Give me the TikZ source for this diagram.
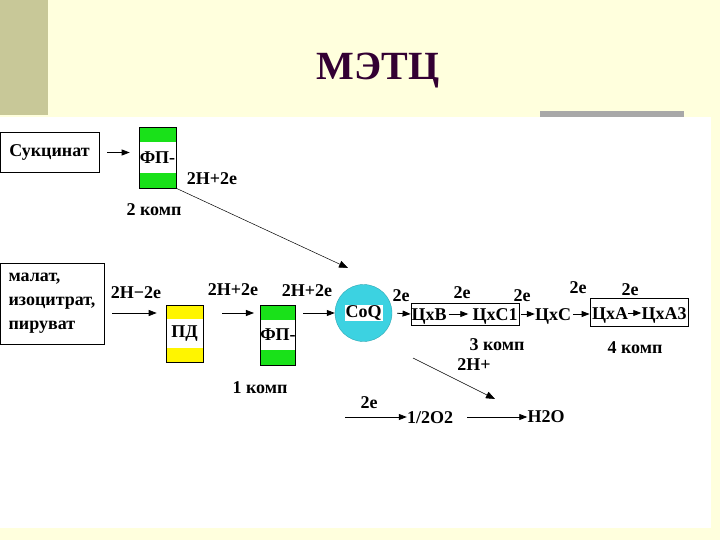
\documentclass[tikz,border=0pt]{standalone}
\usepackage{fontspec}
\setmainfont{Liberation Serif}
\usetikzlibrary{arrows.meta,positioning,calc}
\definecolor{slidebg}{RGB}{255,255,221}
\definecolor{slidebar}{RGB}{200,200,152}
\definecolor{slidegray}{RGB}{168,168,168}
\definecolor{titlecol}{RGB}{51,0,51}
\definecolor{fpgreen}{RGB}{25,225,25}
\definecolor{pdyellow}{RGB}{255,245,0}
\definecolor{coqcyan}{RGB}{60,210,225}

\begin{document}
\begin{tikzpicture}[
    x=1pt, y=-1pt,
    font=\bfseries\fontsize{18}{24}\selectfont,
    src/.style={draw, line width=0.8pt, inner sep=0pt, align=left},
    band/.style={draw, line width=0.6pt, inner sep=0pt,
        path picture={\fill[white] ($(path picture bounding box.north west)!.25!(path picture bounding box.south west)$) rectangle ($(path picture bounding box.north east)!.75!(path picture bounding box.south east)$);}},
    fp/.style={band, fill=fpgreen},
    pdbox/.style={band, fill=pdyellow},
    coq/.style={circle, draw=coqcyan!80!black, line width=0.4pt, fill=coqcyan, inner sep=0pt},
    cytbox/.style={draw, line width=0.8pt, inner sep=0pt},
    lbl/.style={inner sep=0pt, text height=12pt, text depth=0pt},
    arrow/.style={-{Triangle[length=8pt,width=6pt]}, line width=0.8pt},
    thinarrow/.style={-{Triangle[length=9pt,width=7pt]}, line width=0.5pt}
]
\useasboundingbox (0,0) rectangle (720,540);
\fill[slidebg] (0,0) rectangle (720,540);
\fill[slidebar] (0,0) rectangle (48,115);
\fill[white] (0,117) rectangle (711,528);
\fill[slidegray] (540,111) rectangle (684,117);

\node[anchor=base, text=titlecol, font=\bfseries\fontsize{40}{44}\selectfont] (title) at (378,80) {МЭТЦ};

\node[src, minimum width=99pt, minimum height=40pt] (succ) at (49.5,152.5) {Сукцинат};
\node[fp, minimum width=37pt, minimum height=61pt] (fp1) at (157.5,157.5) {ФП-};
\node[lbl] (h1) at (212,179) {2H+2e};
\node[lbl] (k2) at (154,209) {2 комп};

\node[src, minimum width=104pt, minimum height=81pt] (malat) at (52,303.5) {малат,\\изоцитрат,\\пируват};
\node[lbl] (h2) at (136,292) {2H−2e};
\node[pdbox, minimum width=37pt, minimum height=57pt] (pd) at (184.5,333.5) {ПД};
\node[lbl] (h3) at (233,289) {2H+2e};
\node[fp, minimum width=34pt, minimum height=60pt] (fp2) at (278,335) {ФП-};
\node[lbl] (h4) at (307,290) {2H+2e};
\node[lbl] (k1) at (260,387) {1 комп};

\node[coq, minimum size=57pt] (coq) at (363.5,313) {};
\node[fill=white, inner sep=1pt] (coqlbl) at (coq) {CoQ};
\node[lbl] (e1) at (401,295) {2e};

\node[cytbox, minimum width=108pt, minimum height=22pt] (k3box) at (465,314) {};
\node[lbl] (cb) at (429,314) {ЦхВ};
\node[lbl] (cc1) at (495,314) {ЦхС1};
\node[lbl] (e2) at (462,292) {2e};
\node[lbl] (e3) at (522,295) {2e};
\node[lbl] (cc) at (553,314) {ЦхС};
\node[lbl] (e4) at (578,287) {2e};
\node[cytbox, minimum width=98pt, minimum height=28pt] (k4box) at (639,312) {};
\node[lbl] (ca) at (610,313) {ЦхА};
\node[lbl] (ca3) at (664,313) {ЦхА3};
\node[lbl] (e5) at (630,289) {2e};
\node[lbl] (k3) at (497,344) {3 комп};
\node[lbl] (k4) at (635,347) {4 комп};

\node[lbl] (hp) at (474,364) {2H+};
\node[lbl] (e6) at (369,402) {2e};
\node[lbl] (o2) at (430,417) {1/2O2};
\node[lbl] (h2o) at (546,416) {H2O};

\coordinate (coqin) at (348,268);
\coordinate (hpin) at (413,358);
\coordinate (hpout) at (495,399);
\coordinate (o2in) at (345,417);

\draw[arrow, shorten <=8pt, shorten >=9pt] (succ.east) -- (succ.east -| fp1.west);
\draw[thinarrow] (fp1.south east) -- (coqin);
\draw[arrow, shorten <=8pt, shorten >=9pt] (malat.east |- coq) -- (pd.west |- coq);
\draw[arrow, shorten <=19pt, shorten >=6pt] (pd.east |- coq) -- (fp2.west |- coq);
\draw[arrow, shorten <=7pt] (fp2.east |- coq) -- (coq.west);
\draw[arrow, shorten <=5pt] (coq.east) -- (k3box.west);
\draw[arrow, shorten <=2pt, shorten >=4pt] (cb) -- (cc1);
\draw[arrow, shorten <=2pt] (k3box.east) -- (cc.west);
\draw[arrow, shorten <=2pt] (cc.east) -- (cc.east -| k4box.west);
\draw[arrow] (ca) -- (ca3);
\draw[thinarrow] (hpin) -- (hpout);
\draw[arrow] (o2in) -- (o2in -| o2.west);
\draw[arrow, shorten <=14pt] (o2.east) -- (o2.east -| h2o.west);
\end{tikzpicture}
\end{document}
